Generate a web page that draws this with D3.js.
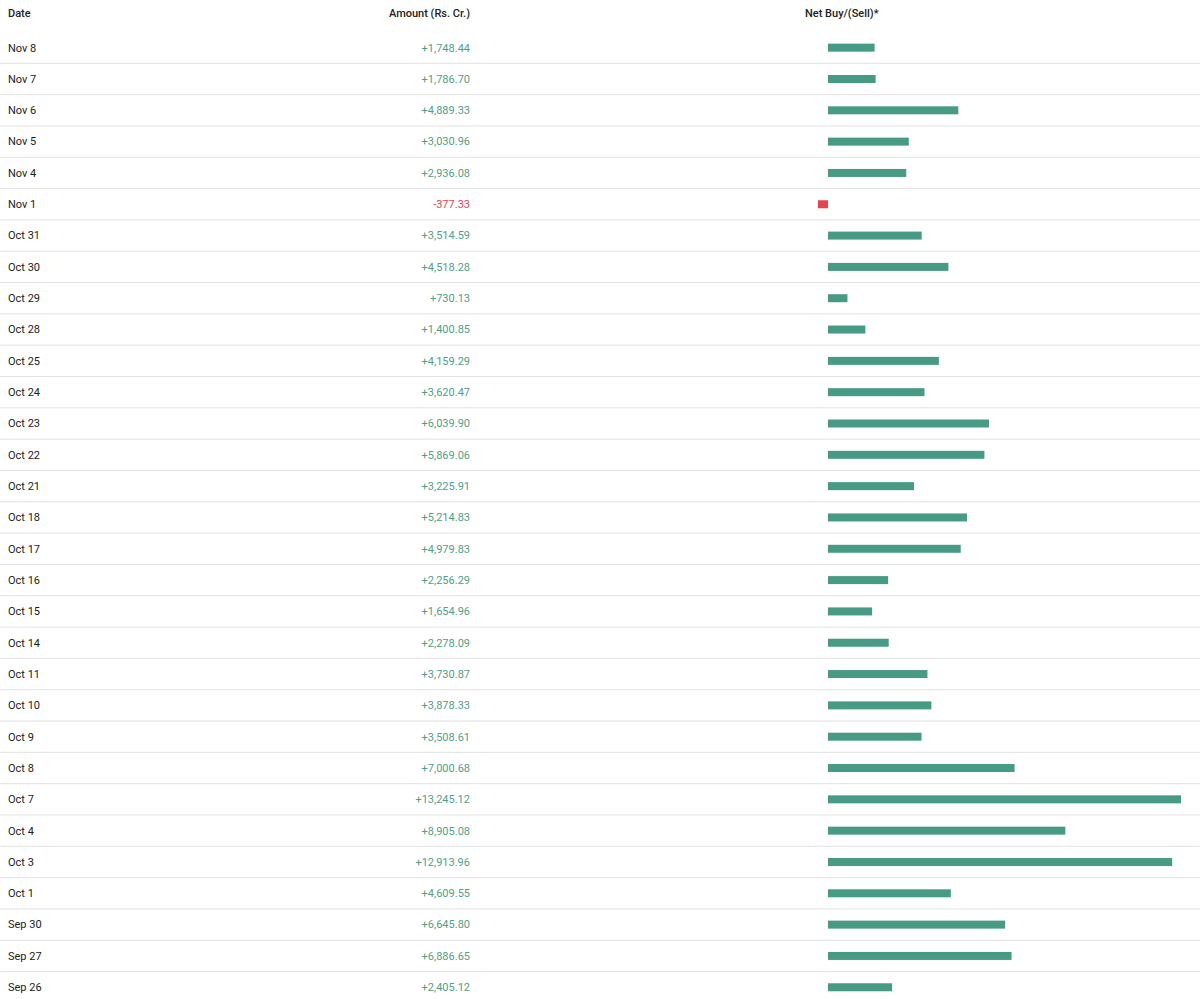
<!DOCTYPE html>
<html><head><meta charset="utf-8">
<script src="https://cdn.jsdelivr.net/npm/d3@7"></script>
<style>
html,body{margin:0;padding:0;background:#fff;}
svg text{font-family:Roboto,"Noto Sans",sans-serif;}
</style></head>
<body>
<svg id="chart" width="1200" height="999"></svg>
<script>
const dates = ["Nov 8","Nov 7","Nov 6","Nov 5","Nov 4","Nov 1","Oct 31","Oct 30","Oct 29","Oct 28","Oct 25","Oct 24","Oct 23","Oct 22","Oct 21","Oct 18","Oct 17","Oct 16","Oct 15","Oct 14","Oct 11","Oct 10","Oct 9","Oct 8","Oct 7","Oct 4","Oct 3","Oct 1","Sep 30","Sep 27","Sep 26"];
const amounts = [1748.44,1786.70,4889.33,3030.96,2936.08,-377.33,3514.59,4518.28,730.13,1400.85,4159.29,3620.47,6039.90,5869.06,3225.91,5214.83,4979.83,2256.29,1654.96,2278.09,3730.87,3878.33,3508.61,7000.68,13245.12,8905.08,12913.96,4609.55,6645.80,6886.65,2405.12];
const headers = ["Date","Amount (Rs. Cr.)","Net Buy/(Sell)*"];

const W = 1200, H = 999;
const svg = d3.select("#chart");
const green = "#479a83", red = "#e8424c", textGreen = "#4f9f86";

const rowH = 31.32, top0 = 32;
const y = d3.scaleBand().domain(d3.range(dates.length)).range([top0, top0 + rowH*dates.length]).paddingInner(0);
const x = d3.scaleLinear().domain([0, 13245.12]).range([828, 1181]);

// header
const hdr = svg.append("g").attr("font-size", 11).attr("font-weight", 500).attr("fill", "#222");
hdr.append("text").attr("x", 8).attr("y", 17).text(headers[0]);
hdr.append("text").attr("x", 470).attr("y", 17).attr("text-anchor", "end").text(headers[1]);
hdr.append("text").attr("x", 805).attr("y", 17).text(headers[2]);

const rows = svg.append("g").selectAll("g").data(dates).join("g")
  .attr("transform", (d,i) => `translate(0,${y(i)})`);

const bw = y.bandwidth();
rows.filter((d,i) => i < dates.length - 1).append("line")
  .attr("x1", 0).attr("x2", W).attr("y1", bw).attr("y2", bw)
  .attr("stroke", "#e2e2e2").attr("stroke-width", 1);

rows.append("text").attr("x", 8).attr("y", bw/2).attr("dy", "0.35em")
  .attr("font-size", 11).attr("fill", "#222").text(d => d);

const fmt = d3.format(",.2f");
rows.append("text").attr("x", 470).attr("y", bw/2).attr("dy", "0.35em")
  .attr("text-anchor", "end").attr("font-size", 11)
  .attr("fill", (d,i) => amounts[i] < 0 ? red : textGreen)
  .text((d,i) => (amounts[i] < 0 ? "-" : "+") + fmt(Math.abs(amounts[i])));

rows.append("rect")
  .attr("x", (d,i) => Math.min(x(0), x(amounts[i])))
  .attr("width", (d,i) => Math.abs(x(amounts[i]) - x(0)))
  .attr("y", bw/2 - 4).attr("height", 8)
  .attr("fill", (d,i) => amounts[i] < 0 ? red : green);
</script>
</body></html>
